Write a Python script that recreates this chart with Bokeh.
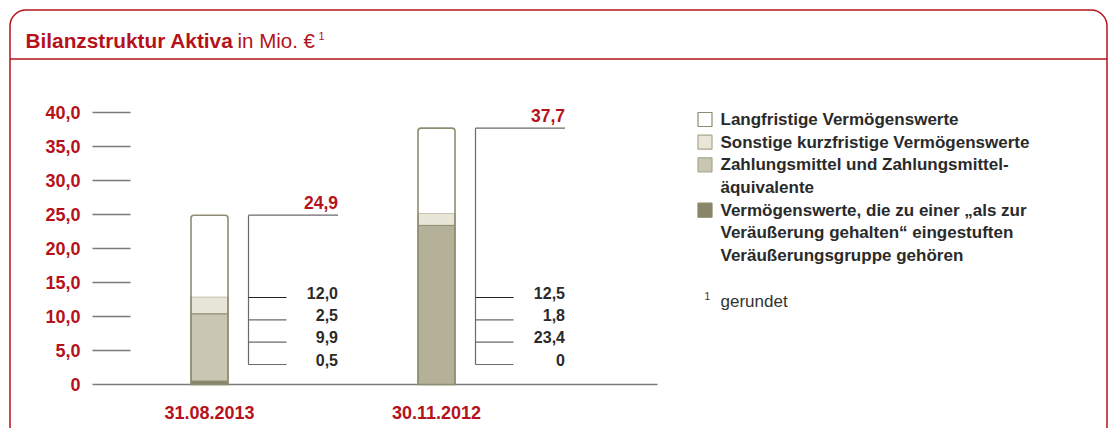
import numpy as np
from bokeh.plotting import figure
from bokeh.models import Range1d, ColumnDataSource
from bokeh.core.properties import value
from bokeh.embed import file_html
from bokeh.resources import INLINE

# ---------------- data ----------------
categories = ["31.08.2013", "30.11.2012"]
langfristige = [12.0, 12.5]
sonstige = [2.5, 1.8]
zahlungsmittel = [9.9, 23.4]
veraeusserung = [0.5, 0.0]
totals = [24.9, 37.7]
total_labels = ["24,9", "37,7"]
segment_labels = [["12,0", "2,5", "9,9", "0,5"], ["12,5", "1,8", "23,4", "0"]]
y_ticks = [0, 5, 10, 15, 20, 25, 30, 35, 40]
y_tick_labels = ["0", "5,0", "10,0", "15,0", "20,0", "25,0", "30,0", "35,0", "40,0"]
legend_labels = [
    ["Langfristige Vermögenswerte"],
    ["Sonstige kurzfristige Vermögenswerte"],
    ["Zahlungsmittel und Zahlungsmittel-", "äquivalente"],
    ["Vermögenswerte, die zu einer „als zur",
     "Veräußerung gehalten“ eingestuften",
     "Veräußerungsgruppe gehören"],
]
title_bold = "Bilanzstruktur Aktiva"
title_rest = "in Mio. €"
footnote_mark = "1"
footnote = "gerundet"

# ---------------- layout / style ----------------
W, H = 1108, 428
X0, XS = 209, 227     # x of first bar centre, px per category
Y0, YS = 384, 6.8     # y of zero line, px per unit


def fx(px):
    return (px - X0) / XS


def fy(py):
    return (Y0 - py) / YS


def dx(px):
    return px / XS


def dy(px):
    return px / YS


RED = "#b5121b"
OLIVE = "#8e8c70"
DARK = "#2a2a2a"
GREY = "#7a7a7a"
FONT = value("Liberation Sans")
C_LANG = "#ffffff"
C_SONST = "#e8e6d6"
C_ZAHL = ["#c9c6b2", "#b4b198"]
C_VER = "#8a8468"
LEGEND_COLORS = [C_LANG, C_SONST, C_ZAHL[0], C_VER]

p = figure(width=W, height=H,
           x_range=Range1d(fx(0), fx(W)),
           y_range=Range1d(fy(H), fy(0)),
           output_backend="svg", toolbar_location=None,
           x_axis_location=None, y_axis_location=None,
           min_border=0, outline_line_color=None)
p.grid.visible = False
p.background_fill_color = "white"

# ---- frame with title ----
p.quad(left=[fx(9.5)], right=[fx(1106.5)], top=[fy(9.5)], bottom=[fy(460)],
       fill_color=None, line_color=RED, line_width=1.5, border_radius=16)
p.segment(x0=[fx(9.5)], x1=[fx(1106.5)], y0=[fy(58.5)], y1=[fy(58.5)],
          line_color=RED, line_width=1.5)
p.text(x=[fx(25)], y=[fy(40)], text=[title_bold], text_font=FONT,
       text_font_size="20.8px", text_font_style="bold", text_color=RED,
       text_align="left", text_baseline="middle")
p.text(x=[fx(237)], y=[fy(40)], text=[title_rest], text_font=FONT,
       text_font_size="20.5px", text_color=RED,
       text_align="left", text_baseline="middle")
p.text(x=[fx(318)], y=[fy(35)], text=[footnote_mark], text_font=FONT,
       text_font_size="11px", text_color=RED,
       text_align="left", text_baseline="middle")

# ---- y axis (ticks and labels through y scale) ----
tick_vals = [t for t in y_ticks if t != 0]
p.segment(x0=[fx(92)] * len(tick_vals), x1=[fx(130)] * len(tick_vals),
          y0=tick_vals, y1=tick_vals, line_color=GREY, line_width=1.5)
p.segment(x0=[fx(92)], x1=[fx(657)], y0=[0], y1=[0],
          line_color=GREY, line_width=1.5)
p.text(x=[fx(80)] * len(y_ticks), y=y_ticks, text=y_tick_labels, text_font=FONT,
       text_font_size="18px", text_font_style="bold", text_color=RED,
       text_align="right", text_baseline="middle")

# ---- stacked bars ----
xs = list(range(len(categories)))
bw = dx(37)
v = np.array(veraeusserung)
z = np.array(zahlungsmittel)
s = np.array(sonstige)
l = np.array(langfristige)
b1 = v
b2 = b1 + z
b3 = b2 + s
b4 = b3 + l

p.vbar(x=xs, width=bw, bottom=0, top=list(b1), fill_color=C_VER,
       line_color=OLIVE, line_width=1)
src_z = ColumnDataSource(dict(x=xs, bottom=list(b1), top=list(b2), color=C_ZAHL))
p.vbar(x="x", width=bw, bottom="bottom", top="top", fill_color="color",
       line_color=OLIVE, line_width=1, source=src_z)
p.vbar(x=xs, width=bw, bottom=list(b2), top=list(b3), fill_color=C_SONST,
       line_color=OLIVE, line_width=1)
p.vbar(x=xs, width=bw, bottom=list(b3), top=list(b4), fill_color=C_LANG,
       line_color=None)
p.vbar(x=xs, width=bw, bottom=0, top=totals, fill_color=None,
       line_color=OLIVE, line_width=1.6, border_radius=(3, 3, 0, 0))

# ---- brackets with value labels ----
slot_y = [fy(297), fy(319.3), fy(341.7), fy(364)]
for i, x in enumerate(xs):
    bx = x + dx(39)
    ex = x + dx(128.5)
    tx = x + dx(77)
    p.segment(x0=[bx], x1=[bx], y0=[totals[i]], y1=[slot_y[-1]],
              line_color="#6a6a6a", line_width=1.2)
    p.segment(x0=[bx], x1=[ex], y0=[totals[i]], y1=[totals[i]],
              line_color="#6a6a6a", line_width=1.2)
    p.segment(x0=[bx] * 4, x1=[tx] * 4, y0=slot_y, y1=slot_y,
              line_color=["#222222", "#6a6a6a", "#6a6a6a", "#6a6a6a"], line_width=1.2)
    p.text(x=[ex], y=[totals[i] + dy(13)], text=[total_labels[i]], text_font=FONT,
           text_font_size="17.5px", text_font_style="bold", text_color=RED,
           text_align="right", text_baseline="middle")
    p.text(x=[ex] * 4, y=[sy + dy(5) for sy in slot_y], text=segment_labels[i],
           text_font=FONT, text_font_size="16px", text_font_style="bold",
           text_color=DARK, text_align="right", text_baseline="middle")

# ---- category labels ----
p.text(x=xs, y=[fy(412)] * len(xs), text=categories, text_font=FONT,
       text_font_size="18px", text_font_style="bold", text_color=RED,
       text_align="center", text_baseline="middle")

# ---- legend ----
line_h = 22.67
row = 0
sw_x, sw_y, sw_c, lx, ly, lt = [], [], [], [], [], []
for k, lines in enumerate(legend_labels):
    sw_x.append(fx(704.5))
    sw_y.append(fy(119 + row * line_h))
    sw_c.append(LEGEND_COLORS[k])
    for ln in lines:
        lx.append(fx(720))
        ly.append(fy(119 + row * line_h))
        lt.append(ln)
        row += 1
p.rect(x=sw_x, y=sw_y, width=14, height=14, width_units="screen",
       height_units="screen", fill_color=sw_c,
       line_color=[OLIVE, "#a9a78f", "#a9a78f", C_VER], line_width=1.2)
p.text(x=lx, y=ly, text=lt, text_font=FONT, text_font_size="17px",
       text_font_style="bold", text_color=DARK, text_align="left",
       text_baseline="middle")

# ---- footnote ----
p.text(x=[fx(704)], y=[fy(295)], text=[footnote_mark], text_font=FONT,
       text_font_size="10px", text_color="#333333", text_align="left",
       text_baseline="middle")
p.text(x=[fx(720)], y=[fy(300.5)], text=[footnote], text_font=FONT,
       text_font_size="17px", text_color="#333333", text_align="left",
       text_baseline="middle")

open("out.html", "w").write(file_html(p, INLINE))
